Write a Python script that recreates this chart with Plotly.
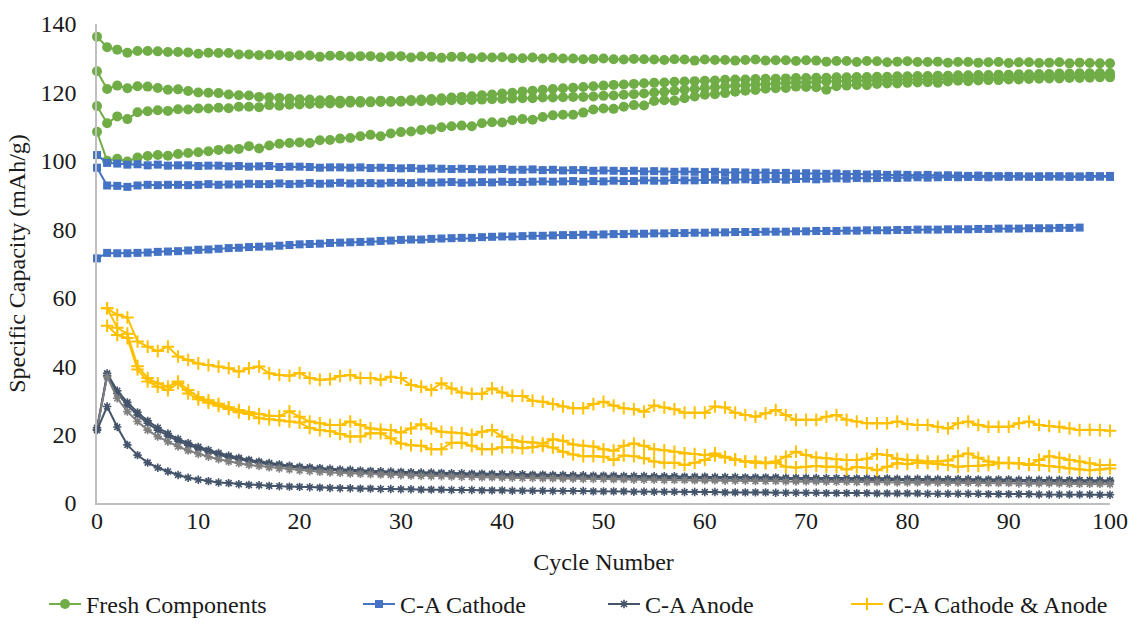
import plotly.graph_objects as go

cycles = list(range(0, 101))
cycles_b3 = list(range(0, 98))
cycles_y = list(range(1, 101))

fresh_1 = [136.3,133.2,132.5,131.6,132.1,132.1,132.0,131.8,131.8,131.7,131.3,131.6,131.5,131.5,131.1,131.1,130.9,131.0,130.9,130.6,
           130.8,130.8,130.4,130.7,130.7,130.5,130.6,130.6,130.3,130.6,130.6,130.2,130.5,130.4,130.1,130.4,130.4,130.0,130.3,130.2,
           130.3,130.0,130.0,130.2,129.9,130.1,129.9,129.9,129.7,129.8,129.9,129.7,129.6,129.8,129.7,129.6,129.5,129.7,129.6,129.3,
           129.6,129.5,129.5,129.3,129.5,129.6,129.3,129.4,129.4,129.2,129.4,129.3,129.0,129.2,129.2,128.9,129.2,129.1,128.8,129.0,
           129.1,128.9,128.9,129.0,128.7,128.9,128.9,128.7,128.8,128.9,128.6,128.8,128.8,128.6,128.7,128.8,128.5,128.7,128.6,128.5,128.5]
fresh_2 = [126.2,121.0,122.0,121.2,121.8,121.7,121.3,120.8,120.9,120.4,120.0,119.9,119.8,119.4,119.2,119.1,118.7,118.6,118.4,118.2,
           118.0,117.9,117.7,117.8,117.6,117.6,117.5,117.4,117.6,117.5,117.6,117.8,117.9,118.1,118.3,118.5,118.7,118.9,119.2,119.4,
           119.7,119.9,120.3,120.5,120.8,121.0,121.2,121.4,121.6,121.8,122.0,122.2,122.3,122.5,122.7,122.8,122.9,123.1,123.2,123.3,
           123.4,123.5,123.7,123.8,123.8,123.9,124.0,124.0,124.1,124.2,124.2,124.3,124.3,124.4,124.4,124.5,124.5,124.6,124.6,124.7,
           124.7,124.8,124.8,124.9,124.9,125.0,125.0,125.1,125.1,125.2,125.2,125.3,125.3,125.4,125.4,125.5,125.5,125.6,125.6,125.7,125.7]
fresh_3 = [116.0,111.0,113.0,112.2,114.2,114.5,114.8,114.6,115.1,115.0,115.3,115.3,115.5,115.4,115.8,115.8,115.7,116.3,116.1,116.4,
           116.5,116.6,116.7,116.8,116.8,117.0,117.0,117.1,117.2,117.2,117.3,117.4,117.4,117.5,117.6,117.7,117.7,117.8,117.9,118.0,
           118.1,118.2,118.3,118.3,118.5,118.5,118.6,118.7,118.7,118.8,119.0,119.1,119.3,119.5,119.7,120.0,120.2,120.5,120.8,121.0,
           121.3,121.5,121.8,122.0,122.1,122.3,122.5,122.6,122.8,123.0,122.8,123.1,123.2,123.3,123.4,123.4,123.5,123.6,123.6,123.7,
           123.8,123.8,123.9,124.0,124.0,124.1,124.2,124.2,124.3,124.3,124.4,124.5,124.5,124.6,124.6,124.7,124.7,124.8,124.8,124.9,124.9]
fresh_4 = [108.5,100.0,100.6,99.8,101.0,101.4,101.7,101.5,102.0,102.3,102.5,102.8,103.2,103.4,103.5,104.3,103.6,104.5,105.0,105.2,
           105.4,105.2,106.0,106.1,106.5,106.7,107.2,107.6,107.2,108.0,108.4,108.6,109.0,109.2,109.8,110.1,110.3,110.1,111.0,111.3,
           111.2,111.9,112.2,112.0,112.8,113.3,113.5,113.5,114.1,115.0,115.3,115.2,115.8,116.3,116.2,117.5,117.7,117.6,118.3,118.8,
           119.3,119.5,119.8,120.2,120.5,120.7,121.1,121.2,121.3,121.7,121.6,121.5,120.8,121.8,122.0,122.2,122.1,122.5,122.6,122.6,
           122.8,122.9,123.0,122.8,123.2,123.4,123.3,123.5,123.6,123.6,123.8,123.8,123.9,124.0,124.1,124.1,124.2,124.2,124.3,124.4,124.4]

cathode_1 = [101.7,99.4,99.2,98.9,99.0,98.7,98.9,98.6,98.7,98.7,98.5,98.6,98.6,98.4,98.5,98.3,98.4,98.5,98.2,98.3,
             98.3,98.2,98.0,98.1,98.1,98.0,98.1,97.9,98.0,97.9,97.8,97.9,97.7,97.8,97.7,97.6,97.7,97.6,97.5,97.5,
             97.6,97.4,97.4,97.5,97.3,97.4,97.2,97.3,97.3,97.1,97.2,97.1,97.0,97.1,96.9,97.0,96.9,96.8,96.9,96.8,
             96.7,96.8,96.6,96.7,96.6,96.5,96.6,96.4,96.5,96.3,96.4,96.3,96.2,96.3,96.1,96.2,96.0,96.1,95.9,96.0,
             95.9,95.8,95.9,95.7,95.8,95.7,95.6,95.7,95.6,95.5,95.6,95.5,95.4,95.5,95.4,95.5,95.3,95.4,95.3,95.4,95.3]
cathode_2 = [98.0,92.8,92.7,92.4,92.8,93.0,92.9,93.0,93.0,92.9,93.0,93.2,93.0,93.1,93.1,93.3,93.2,93.2,93.4,93.2,
             93.3,93.5,93.3,93.4,93.6,93.4,93.5,93.5,93.4,93.6,93.6,93.5,93.7,93.6,93.7,93.8,93.6,93.7,93.8,93.7,
             93.9,93.8,93.8,93.9,94.0,93.9,94.0,94.1,93.9,94.1,94.0,94.2,94.1,94.1,94.3,94.2,94.2,94.4,94.3,94.3,
             94.4,94.5,94.3,94.5,94.6,94.4,94.6,94.7,94.5,94.7,94.8,94.6,94.8,94.9,94.8,95.0,94.9,95.0,95.1,95.0,
             95.1,95.2,95.1,95.2,95.3,95.2,95.3,95.3,95.2,95.4,95.3,95.4,95.4,95.3,95.5,95.4,95.5,95.4,95.6,95.5,95.6]
cathode_3 = [71.5,73.1,73.0,73.0,73.1,73.2,73.4,73.5,73.6,73.8,74.0,74.1,74.3,74.5,74.6,74.8,74.9,75.0,75.2,75.4,
             75.6,75.7,75.8,76.0,76.1,76.2,76.3,76.4,76.6,76.7,76.9,77.0,77.0,77.2,77.3,77.4,77.5,77.5,77.7,77.8,
             77.9,77.9,78.0,78.1,78.1,78.2,78.3,78.3,78.4,78.4,78.5,78.6,78.6,78.7,78.7,78.8,78.8,78.9,78.9,79.0,
             79.0,79.1,79.1,79.2,79.2,79.2,79.3,79.3,79.3,79.4,79.4,79.5,79.5,79.5,79.6,79.6,79.7,79.7,79.7,79.8,
             79.8,79.9,79.9,79.9,80.0,80.0,80.0,80.1,80.1,80.2,80.2,80.2,80.3,80.3,80.3,80.4,80.4,80.5]

anode_1 = [21.5,37.9,32.8,29.4,26.5,24.0,22.0,20.3,18.7,17.5,16.4,15.5,14.6,13.8,13.2,12.6,12.1,11.7,11.3,10.9,
           10.6,10.4,10.2,10.0,9.8,9.7,9.5,9.4,9.3,9.2,9.1,9.0,8.9,8.9,8.8,8.7,8.7,8.6,8.6,8.5,
           8.5,8.4,8.4,8.3,8.3,8.2,8.2,8.1,8.1,8.0,8.0,8.0,7.9,7.9,7.9,7.8,7.8,7.8,7.7,7.7,
           7.7,7.6,7.6,7.6,7.5,7.5,7.5,7.5,7.4,7.4,7.4,7.3,7.3,7.3,7.3,7.2,7.2,7.2,7.2,7.1,
           7.1,7.1,7.1,7.0,7.0,7.0,7.0,6.9,6.9,6.9,6.9,6.8,6.8,6.8,6.8,6.8,6.7,6.7,6.7,6.7,6.6]
anode_2 = [22.0,37.2,32.0,28.6,25.7,23.3,21.3,19.6,18.1,16.9,15.9,15.0,14.1,13.4,12.8,12.2,11.7,11.3,10.9,10.6,
           10.3,10.0,9.8,9.6,9.4,9.3,9.1,9.0,8.9,8.8,8.7,8.6,8.5,8.4,8.4,8.3,8.2,8.2,8.1,8.1,
           8.0,8.0,7.9,7.9,7.8,7.8,7.7,7.7,7.6,7.6,7.6,7.5,7.5,7.4,7.4,7.4,7.3,7.3,7.3,7.2,
           7.2,7.2,7.1,7.1,7.1,7.0,7.0,7.0,7.0,6.9,6.9,6.9,6.8,6.8,6.8,6.8,6.7,6.7,6.7,6.7,
           6.6,6.6,6.6,6.6,6.5,6.5,6.5,6.5,6.4,6.4,6.4,6.4,6.3,6.3,6.3,6.3,6.3,6.2,6.2,6.2,6.2]
anode_3 = [21.5,36.9,30.6,26.7,23.8,21.3,19.4,17.9,16.5,15.3,14.3,13.5,12.8,12.1,11.6,11.1,10.8,10.4,10.1,9.8,
           9.5,9.3,9.1,8.9,8.8,8.6,8.5,8.4,8.3,8.2,8.1,8.0,7.9,7.8,7.8,7.7,7.6,7.6,7.5,7.5,
           7.4,7.4,7.3,7.3,7.2,7.2,7.1,7.1,7.0,7.0,7.0,6.9,6.9,6.8,6.8,6.8,6.7,6.7,6.7,6.6,
           6.6,6.6,6.5,6.5,6.5,6.4,6.4,6.4,6.3,6.3,6.3,6.3,6.2,6.2,6.2,6.1,6.1,6.1,6.1,6.0,
           6.0,6.0,6.0,5.9,5.9,5.9,5.9,5.8,5.8,5.8,5.8,5.7,5.7,5.7,5.7,5.7,5.6,5.6,5.6,5.6,5.5]
anode_4 = [21.3,28.2,22.2,17.0,14.0,11.8,10.3,9.2,8.2,7.4,6.8,6.4,6.0,5.8,5.5,5.3,5.2,5.0,4.9,4.8,
           4.7,4.6,4.5,4.4,4.3,4.3,4.2,4.2,4.1,4.1,4.0,4.0,3.9,3.9,3.9,3.8,3.8,3.8,3.7,3.7,
           3.7,3.6,3.6,3.6,3.6,3.5,3.5,3.5,3.5,3.4,3.4,3.4,3.4,3.3,3.3,3.3,3.3,3.3,3.2,3.2,
           3.2,3.2,3.1,3.1,3.1,3.1,3.1,3.0,3.0,3.0,3.0,3.0,2.9,2.9,2.9,2.9,2.9,2.8,2.8,2.8,
           2.8,2.8,2.7,2.7,2.7,2.7,2.7,2.7,2.6,2.6,2.6,2.6,2.6,2.5,2.5,2.5,2.5,2.5,2.5,2.4,2.4]

both_1 = [56.9,55.0,54.2,47.2,45.7,44.4,45.7,42.8,41.8,40.8,40.3,39.9,39.4,38.4,39.4,39.9,37.9,37.4,37.2,38.0,
          36.5,36.0,36.2,37.1,37.4,36.5,36.5,36.0,36.9,36.5,34.5,34.0,33.0,35.0,33.5,32.3,31.9,31.9,33.5,32.3,
          31.3,31.3,29.9,29.6,28.9,28.2,27.7,27.7,28.9,29.6,28.5,27.7,27.4,26.7,28.5,27.9,27.4,26.4,26.4,26.4,
          28.2,27.9,26.4,25.7,25.2,26.2,27.2,25.7,24.3,24.3,24.3,25.2,25.7,24.3,23.8,23.3,23.3,23.3,23.8,23.1,
          22.8,22.8,22.3,21.8,23.3,23.8,22.8,22.3,22.3,22.3,23.3,23.8,22.8,22.5,22.3,21.8,21.3,21.4,21.3,21.1]
both_2 = [56.9,51.2,49.5,40.0,36.5,35.0,34.0,35.5,33.0,31.0,30.0,29.0,28.0,27.2,26.6,26.0,25.5,25.4,26.8,25.2,
          23.8,23.3,22.8,22.8,23.8,22.8,21.8,21.5,21.3,20.6,21.8,23.0,21.8,20.8,20.6,20.4,19.9,20.8,21.3,19.4,
          18.4,17.9,17.7,17.4,18.6,18.2,17.1,16.7,16.5,15.7,15.3,16.7,17.4,16.7,15.7,15.4,15.0,14.5,14.3,14.0,
          14.5,13.5,12.8,12.1,12.1,11.8,12.1,13.5,15.0,14.0,13.3,13.1,12.8,12.6,12.6,12.9,14.3,14.0,12.9,12.6,
          12.4,12.1,12.1,12.4,13.7,14.5,13.2,12.1,11.8,11.6,11.6,11.1,12.6,13.7,13.2,12.6,12.1,11.6,11.1,11.1]
both_3 = [51.8,49.1,48.2,39.0,35.5,34.0,33.0,35.0,32.0,30.3,29.3,28.4,27.5,26.5,26.0,24.8,24.5,24.2,23.8,23.5,
          21.9,21.3,21.0,20.2,19.4,19.4,20.4,20.4,18.9,17.4,16.9,16.7,15.7,15.7,17.6,17.6,16.7,15.7,15.7,16.3,
          16.3,16.0,16.3,16.7,16.2,15.0,14.2,13.7,13.7,13.5,12.6,13.9,13.7,13.1,12.1,11.8,11.8,11.1,11.8,12.6,
          13.9,13.3,12.6,12.1,11.8,11.6,11.8,10.6,10.4,10.6,10.8,10.6,10.6,9.8,10.5,10.3,9.6,10.6,11.6,11.4,
          11.8,11.6,11.4,11.1,10.6,10.8,10.8,11.1,11.6,11.8,11.6,11.3,11.1,10.8,10.6,10.1,9.8,9.6,9.8,10.1]

GREEN = "#70AD47"
BLUE = "#4472C4"
NAVY = "#44546A"
GREY = "#7F7F7F"
GOLD = "#FFC000"
FONT = "Liberation Serif"
TXT = "#1a1a1a"
FS = 24

fig = go.Figure()

def add(x, y, color, symbol, size, name, legend, show, mline=0):
    fig.add_trace(go.Scatter(
        x=x, y=y, mode="lines+markers", name=name, legend=legend, showlegend=show,
        line=dict(color=color, width=2),
        marker=dict(symbol=symbol, size=size, color=color,
                    line=dict(color=color, width=mline)),
        cliponaxis=False,
    ))

for i, s in enumerate([fresh_1, fresh_2, fresh_3, fresh_4]):
    add(cycles, s, GREEN, "circle", 10, "Fresh Components", "legend", i == 0)
for i, (xx, s) in enumerate([(cycles, cathode_1), (cycles, cathode_2), (cycles_b3, cathode_3)]):
    add(xx, s, BLUE, "square", 8, "C-A Cathode", "legend2", i == 0)
for i, (s, c) in enumerate([(anode_1, NAVY), (anode_2, NAVY), (anode_3, GREY), (anode_4, NAVY)]):
    add(cycles, s, c, "asterisk-open", 7, "C-A Anode", "legend3", i == 0, mline=1.6)
for i, s in enumerate([both_1, both_2, both_3]):
    add(cycles_y, s, GOLD, "cross-thin-open", 9, "C-A Cathode & Anode", "legend4", i == 0, mline=2)

leg_common = dict(orientation="h", yanchor="middle", y=0.036, yref="container",
                  xanchor="left", xref="container",
                  font=dict(family=FONT, size=FS, color=TXT), bgcolor="rgba(0,0,0,0)",
                  itemwidth=32)

fig.update_layout(
    width=1131, height=627,
    margin=dict(l=97, r=21, t=24, b=124, autoexpand=False),
    paper_bgcolor="white", plot_bgcolor="white",
    font=dict(family=FONT, size=FS, color=TXT),
    legend=dict(x=44 / 1131, **leg_common),
    legend2=dict(x=358 / 1131, **leg_common),
    legend3=dict(x=603 / 1131, **leg_common),
    legend4=dict(x=846 / 1131, **leg_common),
    xaxis=dict(range=[0, 100], dtick=10, showgrid=False, zeroline=False, automargin=False,
               showline=True, linecolor="#BFBFBF", linewidth=1.5,
               ticks="", ticklabelstandoff=-5, tickfont=dict(family=FONT, size=FS, color=TXT),
               title=dict(text="Cycle Number", font=dict(family=FONT, size=FS, color=TXT), standoff=21)),
    yaxis=dict(range=[0, 140], dtick=20, showgrid=False, zeroline=False, automargin=False,
               showline=True, linecolor="#BFBFBF", linewidth=1.5,
               ticks="", ticklabelstandoff=14, tickfont=dict(family=FONT, size=FS, color=TXT),
               title=dict(text="Specific Capacity (mAh/g)", font=dict(family=FONT, size=FS, color=TXT), standoff=8)),
)

fig.write_html("out.html")
